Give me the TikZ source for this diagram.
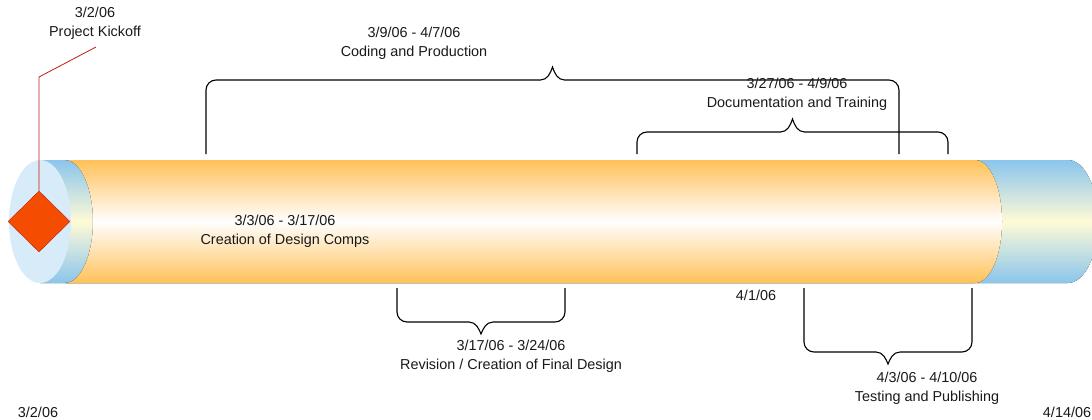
\documentclass[tikz,border=0pt]{standalone}
\usepackage{fontspec}
\setmainfont{Liberation Sans}
\usetikzlibrary{shapes.geometric}
\definecolor{tubeblue}{RGB}{138,197,236}
\definecolor{tubecream}{RGB}{255,250,214}
\definecolor{tubeface}{RGB}{215,235,248}
\definecolor{tubeorange}{RGB}{255,193,88}
\definecolor{kickred}{RGB}{244,76,0}
\definecolor{kickedge}{RGB}{190,30,20}
\tikzset{
  label text/.style={align=center, inner sep=0pt,
    font=\fontsize{14.4}{19}\selectfont, text=black!90},
  brace line/.style={line width=1.1pt, black}
}

\begin{document}
\begin{tikzpicture}[x=1pt, y=1pt]
  \useasboundingbox (0,0) rectangle (1092,-420);

  % tube: blue shell, end face, orange section
  \fill[top color=tubeblue, bottom color=tubeblue, middle color=tubecream]
    (40,-160) -- (1068,-160)
    arc[start angle=90, end angle=-90, x radius=30, y radius=61.5]
    -- (40,-283) -- cycle;
  \fill[tubeface] (40,-221.5) ellipse[x radius=31, y radius=61.5];
  \fill[top color=tubeorange, bottom color=tubeorange, middle color=white]
    (65,-160) -- (975,-160)
    arc[start angle=90, end angle=-90, x radius=27, y radius=61.5]
    -- (65,-283)
    arc[start angle=-90, end angle=90, x radius=28, y radius=61.5] -- cycle;

  % kickoff milestone
  \node[diamond, shape aspect=1, inner sep=0pt, minimum width=62pt,
        minimum height=61pt, fill=kickred, draw=kickedge] (kickoff) at (39,-221.5) {};
  \node[label text] (kickoff label) at (95,-23) {3/2/06\\Project Kickoff};
  \coordinate (elbow) at (39,-77);
  \coordinate (callout end) at (96,-47);
  \draw[kickedge, line width=0.8pt] (kickoff.north) -- (elbow) -- (callout end);

  % braces above the tube
  \foreach \xa/\xb/\xm/\yb in {206/899/552.5/-80, 637/948/792.5/-132}
    \draw[brace line] (\xa,-154) -- (\xa,\yb-10)
      arc[start angle=180, end angle=90, radius=10] -- (\xm-12,\yb)
      .. controls (\xm-5,\yb) and (\xm-2,\yb+7) .. (\xm,\yb+13)
      .. controls (\xm+2,\yb+7) and (\xm+5,\yb) .. (\xm+12,\yb)
      -- (\xb-10,\yb) arc[start angle=90, end angle=0, radius=10] -- (\xb,-154);

  % braces below the tube
  \foreach \xa/\xb/\xm/\yb in {397/565/481/-322, 804/972/888/-352}
    \draw[brace line] (\xa,-288) -- (\xa,\yb+10)
      arc[start angle=180, end angle=270, radius=10] -- (\xm-12,\yb)
      .. controls (\xm-5,\yb) and (\xm-2,\yb-7) .. (\xm,\yb-12)
      .. controls (\xm+2,\yb-7) and (\xm+5,\yb) .. (\xm+12,\yb)
      -- (\xb-10,\yb) arc[start angle=270, end angle=360, radius=10] -- (\xb,-288);

  % phase labels
  \node[label text] (coding)   at (414,-43)  {3/9/06 - 4/7/06\\Coding and Production};
  \node[label text] (docs)     at (797,-94)  {3/27/06 - 4/9/06\\Documentation and Training};
  \node[label text] (comps)    at (285,-231) {3/3/06 - 3/17/06\\Creation of Design Comps};
  \node[label text] (revision) at (511,-356) {3/17/06 - 3/24/06\\Revision / Creation of Final Design};
  \node[label text] (testing)  at (927,-388) {4/3/06 - 4/10/06\\Testing and Publishing};
  \node[label text] (april)    at (756,-295) {4/1/06};
  \node[label text] (start)    at (38,-412)  {3/2/06};
  \node[label text] (finish)   at (1067,-412) {4/14/06};
\end{tikzpicture}
\end{document}
